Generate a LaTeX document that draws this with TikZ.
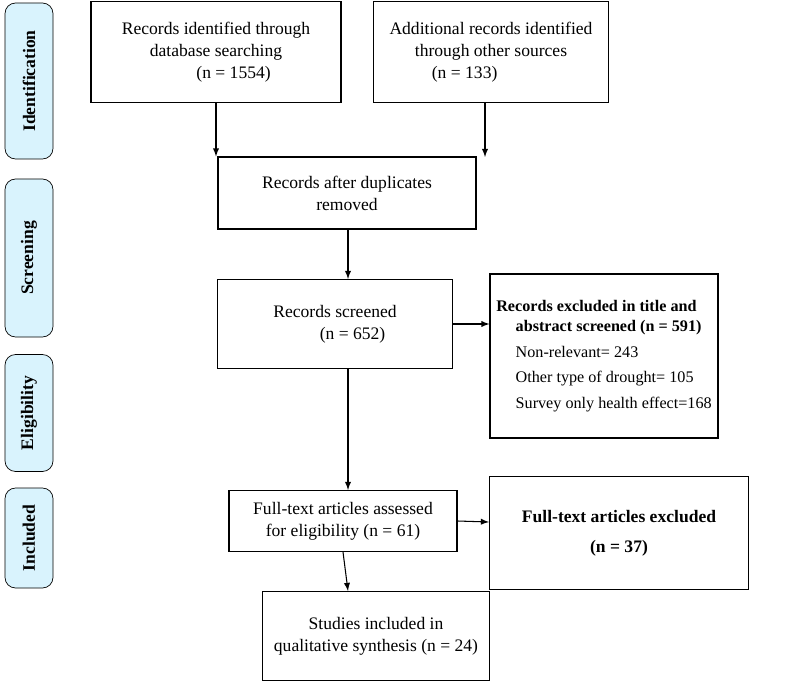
\documentclass[tikz,border=0pt]{standalone}
\usepackage{fontspec}
\setmainfont{Liberation Serif}
\usetikzlibrary{positioning}
\begin{document}
\begin{tikzpicture}[x=0.02cm, y=-0.02cm, >=latex, font=\fontsize{10}{12.5}\selectfont]
        \tikzset{box/.style={draw, semithick, align=center, inner sep=2pt},
                 phase/.style={draw, rounded corners=6pt, fill=cyan!15, rotate=90, font=\fontsize{10}{12}\selectfont\bfseries, inner sep=2pt, minimum height=48*0.02cm},
                 link/.style={->, semithick}}
        \useasboundingbox (0,0) rectangle (798,699);

% phase labels on the left
        \node[phase, minimum width=156*0.02cm] (ident) at (29,81) {Identification};
        \node[phase, minimum width=158*0.02cm] (screen) at (29,258) {Screening};
        \node[phase, minimum width=117*0.02cm] (elig) at (29,413) {Eligibility};
        \node[phase, minimum width=100*0.02cm] (incl) at (29,538) {Included};

% boxes
        \node[box, minimum width=250*0.02cm, minimum height=101*0.02cm] (db) at (216,52) {Records identified through\\database searching\\\hspace*{2em}(n = 1554)};
        \node[box, minimum width=235*0.02cm, minimum height=101*0.02cm] (other) at (491,52) {Additional records identified\\through other sources\\\hspace*{-3em}(n = 133)};
        \node[box, minimum width=258*0.02cm, minimum height=72*0.02cm] (dup) at (347,193) {Records after duplicates\\removed};
        \node[box, minimum width=235*0.02cm, minimum height=89*0.02cm] (scr) at (335,324) {Records screened\\\hspace*{2em}(n = 652)};
        \node[box, minimum width=228*0.02cm, minimum height=164*0.02cm, align=left, font=\fontsize{9.2}{11.5}\selectfont] (excl) at (604,356) {\textbf{Records excluded in title and}\\\hspace*{1.2em}\textbf{abstract screened (n = 591)}\\[3pt]\hspace*{1.2em}Non-relevant= 243\\[3pt]\hspace*{1.2em}Other type of drought= 105\\[3pt]\hspace*{1.2em}Survey only health effect=168};
        \node[box, minimum width=228*0.02cm, minimum height=61*0.02cm] (full) at (343,521) {Full-text articles assessed\\for eligibility (n = 61)};
        \node[box, minimum width=259*0.02cm, minimum height=113*0.02cm, font=\fontsize{10}{17}\selectfont\bfseries] (fexcl) at (619,533) {Full-text articles excluded\\(n = 37)};
        \node[box, minimum width=227*0.02cm, minimum height=89*0.02cm] (incs) at (376,636) {Studies included in\\qualitative synthesis (n = 24)};

% connectors
        \draw[link] (db.south) -- (db.south |- dup.north);
        \draw[link] (other.south -| 485,0) -- (485,157);
        \draw[link] (dup.south -| 348,0) -- (scr.north -| 348,0);
        \draw[link] (scr.east) -- (excl.west |- scr.east);
        \draw[link] (scr.south -| 348,0) -- (full.north -| 348,0);
        \draw[link] (full.east) -- (fexcl.west |- 0,522);
        \draw[link] (full.south) -- (incs.north -| 348,0);
\end{tikzpicture}
\end{document}
